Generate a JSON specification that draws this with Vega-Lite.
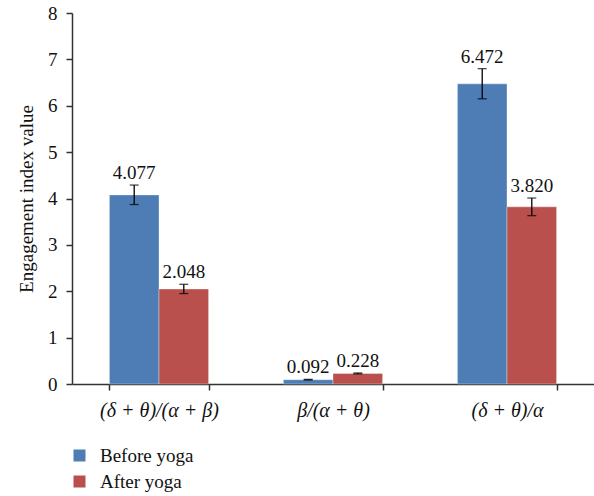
{
  "$schema": "https://vega.github.io/schema/vega-lite/v6.json",
  "width": 522,
  "height": 371,
  "autosize": {"type": "none"},
  "padding": {"left": 72, "top": 13, "right": 0, "bottom": 112},
  "background": "white",
  "config": {
    "view": {"stroke": null},
    "font": "Liberation Serif",
    "axis": {"labelFont": "Liberation Serif", "titleFont": "Liberation Serif", "labelColor": "#111", "titleColor": "#111", "domainColor": "#333", "tickColor": "#333", "domainWidth": 1.5, "tickWidth": 1.5, "grid": false},
    "legend": {"labelFont": "Liberation Serif"}
  },
  "data": {
    "values": [
      {"index": "(δ + θ)/(α + β)", "group": "Before yoga", "value": 4.077, "lo": 3.87, "hi": 4.29},
      {"index": "(δ + θ)/(α + β)", "group": "After yoga", "value": 2.048, "lo": 1.95, "hi": 2.15},
      {"index": "β/(α + θ)", "group": "Before yoga", "value": 0.092, "lo": 0.085, "hi": 0.1},
      {"index": "β/(α + θ)", "group": "After yoga", "value": 0.228, "lo": 0.218, "hi": 0.238},
      {"index": "(δ + θ)/α", "group": "Before yoga", "value": 6.472, "lo": 6.15, "hi": 6.8},
      {"index": "(δ + θ)/α", "group": "After yoga", "value": 3.82, "lo": 3.63, "hi": 4.01}
    ]
  },
  "encoding": {
    "x": {
      "field": "index", "type": "nominal", "sort": null,
      "scale": {"paddingInner": 0.43, "paddingOuter": 0.215},
      "axis": {"title": null, "labelAngle": 0, "labelFontSize": 20, "labelFontStyle": "italic", "labelPadding": 10, "tickBand": "extent", "tickSize": 6}
    },
    "xOffset": {"field": "group", "type": "nominal", "sort": ["Before yoga", "After yoga"]}
  },
  "layer": [
    {
      "mark": {"type": "bar", "stroke": "#ffffff", "strokeOpacity": 0.35, "strokeWidth": 1},
      "encoding": {
        "y": {
          "field": "value", "type": "quantitative",
          "scale": {"domain": [0, 8]},
          "axis": {"title": "Engagement index value", "titleFontSize": 19, "titleFontWeight": "normal", "titlePadding": 11, "labelFontSize": 19, "labelPadding": 9, "tickCount": 8, "tickSize": 6}
        },
        "color": {
          "field": "group", "type": "nominal",
          "scale": {"domain": ["Before yoga", "After yoga"], "range": ["#4D7DB4", "#B9504D"]},
          "legend": {"title": null, "orient": "none", "legendX": -2, "legendY": 433, "symbolType": "square", "symbolSize": 144, "symbolStrokeWidth": 0, "labelFontSize": 19, "labelOffset": 11, "rowPadding": 6, "labelColor": "#111"}
        }
      }
    },
    {
      "mark": {"type": "rule", "color": "#000", "strokeWidth": 1.3},
      "encoding": {"y": {"field": "lo", "type": "quantitative"}, "y2": {"field": "hi"}}
    },
    {
      "mark": {"type": "tick", "color": "#000", "size": 9, "thickness": 1.3},
      "encoding": {"y": {"field": "lo", "type": "quantitative"}}
    },
    {
      "mark": {"type": "tick", "color": "#000", "size": 9, "thickness": 1.3},
      "encoding": {"y": {"field": "hi", "type": "quantitative"}}
    },
    {
      "mark": {"type": "text", "baseline": "alphabetic", "dy": -6, "fontSize": 19, "color": "#111"},
      "encoding": {
        "y": {"field": "hi", "type": "quantitative"},
        "text": {"field": "value", "type": "quantitative", "format": ".3f"}
      }
    }
  ]
}
